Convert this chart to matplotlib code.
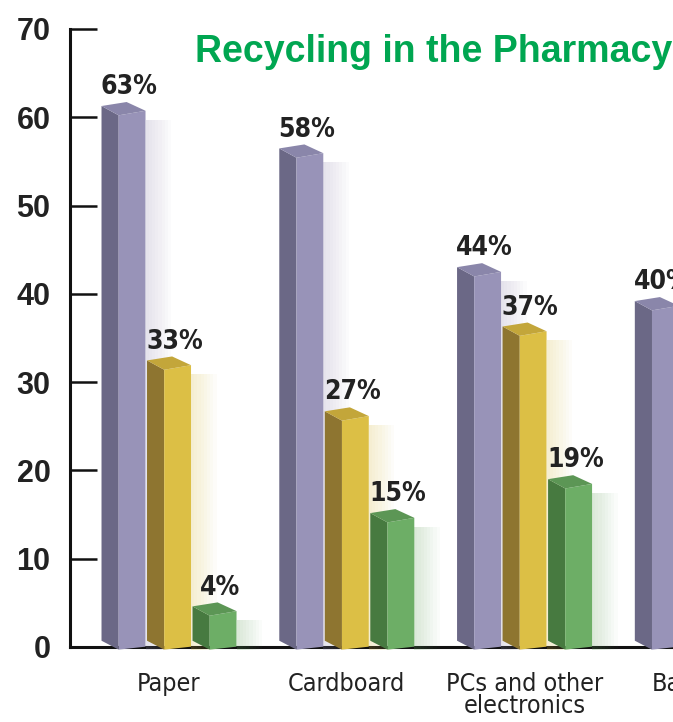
import matplotlib.pyplot as plt
from matplotlib.patches import Polygon, Rectangle

categories = ['Paper', 'Cardboard', 'PCs and other\nelectronics', 'Batteries']
purple_vals = [63, 58, 44, 40]
yellow_vals = [33, 27, 37, None]   # 4th group is cut off in the picture
green_vals = [4, 15, 19, None]
y_ticks = [0, 10, 20, 30, 40, 50, 60, 70]

series = [
    (purple_vals, ('#6b6886', '#9893b8', '#8a86aa')),
    (yellow_vals, ('#8e7530', '#dcbf45', '#c3a63a')),
    (green_vals, ('#477a40', '#6dae66', '#5c9655')),
]

W, H = 673, 722
fig = plt.figure(figsize=(W / 100, H / 100), dpi=100)
pos = [70 / W, 75 / H, (W - 70) / W, 618 / H]

## axis with the scale, spine and ticks
ax = fig.add_axes(pos)
ax.set_xlim(-0.557, 2.835)
ax.set_ylim(0, 70)
ax.spines[['top', 'right']].set_visible(False)
for s in ['left', 'bottom']:
    ax.spines[s].set_linewidth(2.2)
    ax.spines[s].set_color('#111111')
ax.set_yticks(y_ticks)
ax.tick_params(axis='y', direction='in', length=19.5, width=1.8, pad=14,
               labelsize=22, color='#111111')
for lab in ax.get_yticklabels():
    lab.set_family(['Liberation Sans', 'DejaVu Sans'])
    lab.set_fontweight('bold')
    lab.set_color('#222222')
ax.set_xticks([])

## bars on their own axis (the bars in the picture sit on a slightly different scale)
bx = fig.add_axes(pos, sharex=ax)
bx.set_ylim(0.31, 73.18)
bx.axis('off')

offsets = [-0.256, 0.0, 0.256]
bw = 0.2475
f_front, f_back = 0.39, 0.57
tl, tb, tr = 1.1, 1.57, 0.54   # top corner lifts
bl, br = 1.05, 0.35            # bottom corner lifts
cond = ['DejaVu Sans', 'Liberation Sans']

for k, (vals, (dark, light, top)) in enumerate(series):
    for i, v in enumerate(vals):
        if v is None:
            continue
        xl = i + offsets[k] - bw / 2
        xf = xl + bw * f_front
        xb = xl + bw * f_back
        xr = xl + bw
        # soft glow to the right of the bar
        for j in range(8):
            bx.add_patch(Rectangle((xr, 0), 0.018 * (j + 1), v - 0.5, fc=light,
                                   alpha=0.03, ec='none', clip_on=False, zorder=1))
        left = Polygon([(xl, bl), (xf, 0), (xf, v), (xl, v + tl)], closed=True,
                       fc=dark, ec='none', clip_on=False, zorder=2)
        right = Polygon([(xf, 0), (xr, br), (xr, v + tr), (xf, v)], closed=True,
                        fc=light, ec='none', clip_on=False, zorder=2)
        cap = Polygon([(xl, v + tl), (xb, v + tb), (xr, v + tr), (xf, v)], closed=True,
                      fc=top, ec='none', clip_on=False, zorder=2)
        for p in (left, right, cap):
            bx.add_patch(p)
        bx.text(i + offsets[k] + 0.03, v + 2.5, f'{v}%', ha='center', va='baseline',
                fontsize=19, fontweight='bold', fontstretch='condensed', color='#222222',
                family=cond, clip_on=False, zorder=3)

for i, name in enumerate(categories):
    ax.text(i, -2.8, name, ha='center', va='top', fontsize=18, color='#222222',
            linespacing=0.9, fontstretch='condensed', family=cond, clip_on=False)

fig.text(195 / W, (H - 62) / H, 'Recycling in the Pharmacy', ha='left', va='baseline',
         fontsize=27, fontweight='bold', color='#00a651',
         family=['Liberation Sans', 'DejaVu Sans'])

fig.savefig('out.png', dpi=100)
